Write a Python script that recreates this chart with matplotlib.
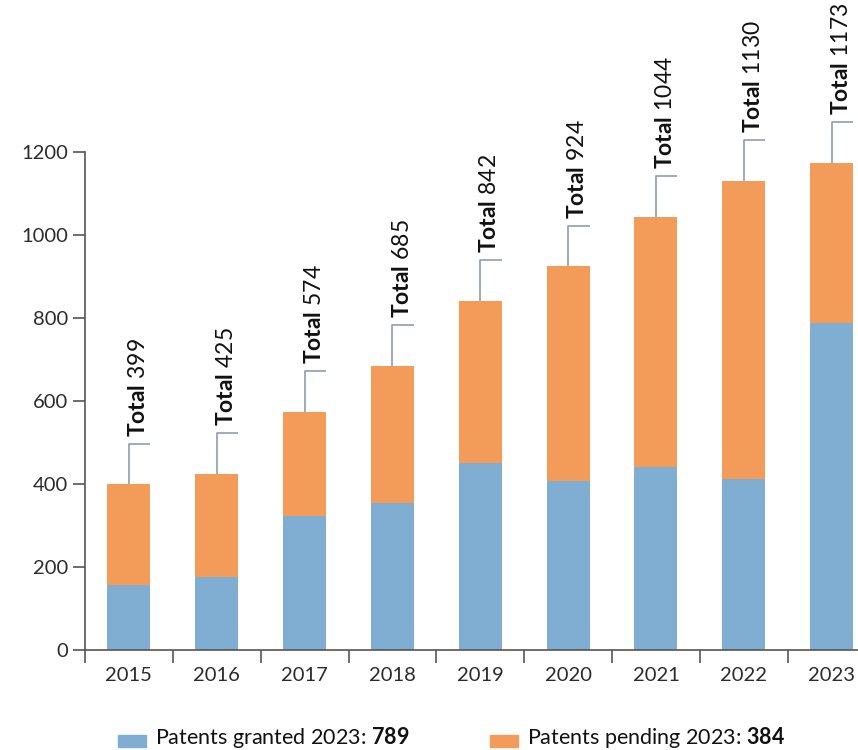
import matplotlib
matplotlib.use("Agg")
import matplotlib.pyplot as plt
from matplotlib.patches import Rectangle

# Patent counts per year
years = ["2015", "2016", "2017", "2018", "2019", "2020", "2021", "2022", "2023"]
granted = [157, 176, 323, 354, 451, 407, 441, 412, 789]
pending = [242, 249, 251, 331, 391, 517, 603, 718, 384]
y_ticks = [0, 200, 400, 600, 800, 1000, 1200]

totals = [g + p for g, p in zip(granted, pending)]

BLUE = "#80aed3"
ORANGE = "#f39b58"
AXIS = "#555555"
TEXT = "#2b2b2b"
LEADER = "#8d9db0"

plt.rcParams["font.family"] = ["Lato", "DejaVu Sans"]
plt.rcParams["mathtext.fontset"] = "custom"
plt.rcParams["mathtext.rm"] = "Lato"
plt.rcParams["mathtext.bf"] = "Lato:bold"

fig = plt.figure(figsize=(8.58, 7.5), dpi=100)
ax = fig.add_axes([85 / 858, 100 / 750, 1 - 85 / 858, 650 / 750])

x = list(range(len(years)))
bar_w = 0.49
ax.bar(x, granted, width=bar_w, color=BLUE, zorder=2)
ax.bar(x, pending, width=bar_w, bottom=granted, color=ORANGE, zorder=2)

# Leader lines and rotated total labels
lead = 98
gap = 17
for i, t in zip(x, totals):
    ax.plot([i, i, i + bar_w / 2], [t, t + lead, t + lead], color=LEADER,
            lw=1.2, clip_on=False, zorder=3, solid_capstyle="butt")
    ax.text(i - 0.01, t + lead + gap, r"$\mathbf{Total}$" + f" {t}", rotation=90,
            ha="left", va="bottom", fontsize=16.5, color="#111111", clip_on=False)

ax.set_xlim(-0.49, 8.3)
ax.set_ylim(0, 1566)

for side in ["top", "right"]:
    ax.spines[side].set_visible(False)
ax.spines["left"].set_bounds(0, 1200)
for side in ["left", "bottom"]:
    ax.spines[side].set_color(AXIS)
    ax.spines[side].set_linewidth(1.2)

ax.set_yticks(y_ticks)
ax.set_yticklabels([str(v) for v in y_ticks])
ax.tick_params(axis="y", length=9, width=1.2, color=AXIS, pad=3,
               labelsize=14.5, labelcolor=TEXT)

ax.set_xticks(x)
ax.set_xticklabels(years)
ax.tick_params(axis="x", which="major", length=0, pad=12,
               labelsize=14.5, labelcolor=TEXT)
ax.set_xticks([i - 0.5 for i in x], minor=True)
ax.tick_params(axis="x", which="minor", length=9, width=1.2, color=AXIS)

# Legend row
fig.patches.append(Rectangle((118 / 858, 3 / 750), 28 / 858, 12 / 750,
                             transform=fig.transFigure, color=BLUE))
fig.text(155 / 858, 6 / 750, r"Patents granted 2023: $\mathbf{" + str(granted[-1]) + "}$",
         ha="left", va="baseline", fontsize=15.5, color="#111111")
fig.patches.append(Rectangle((490 / 858, 3 / 750), 28 / 858, 12 / 750,
                             transform=fig.transFigure, color=ORANGE))
fig.text(527 / 858, 6 / 750, r"Patents pending 2023: $\mathbf{" + str(pending[-1]) + "}$",
         ha="left", va="baseline", fontsize=15.5, color="#111111")

fig.savefig("out.png", dpi=100)
